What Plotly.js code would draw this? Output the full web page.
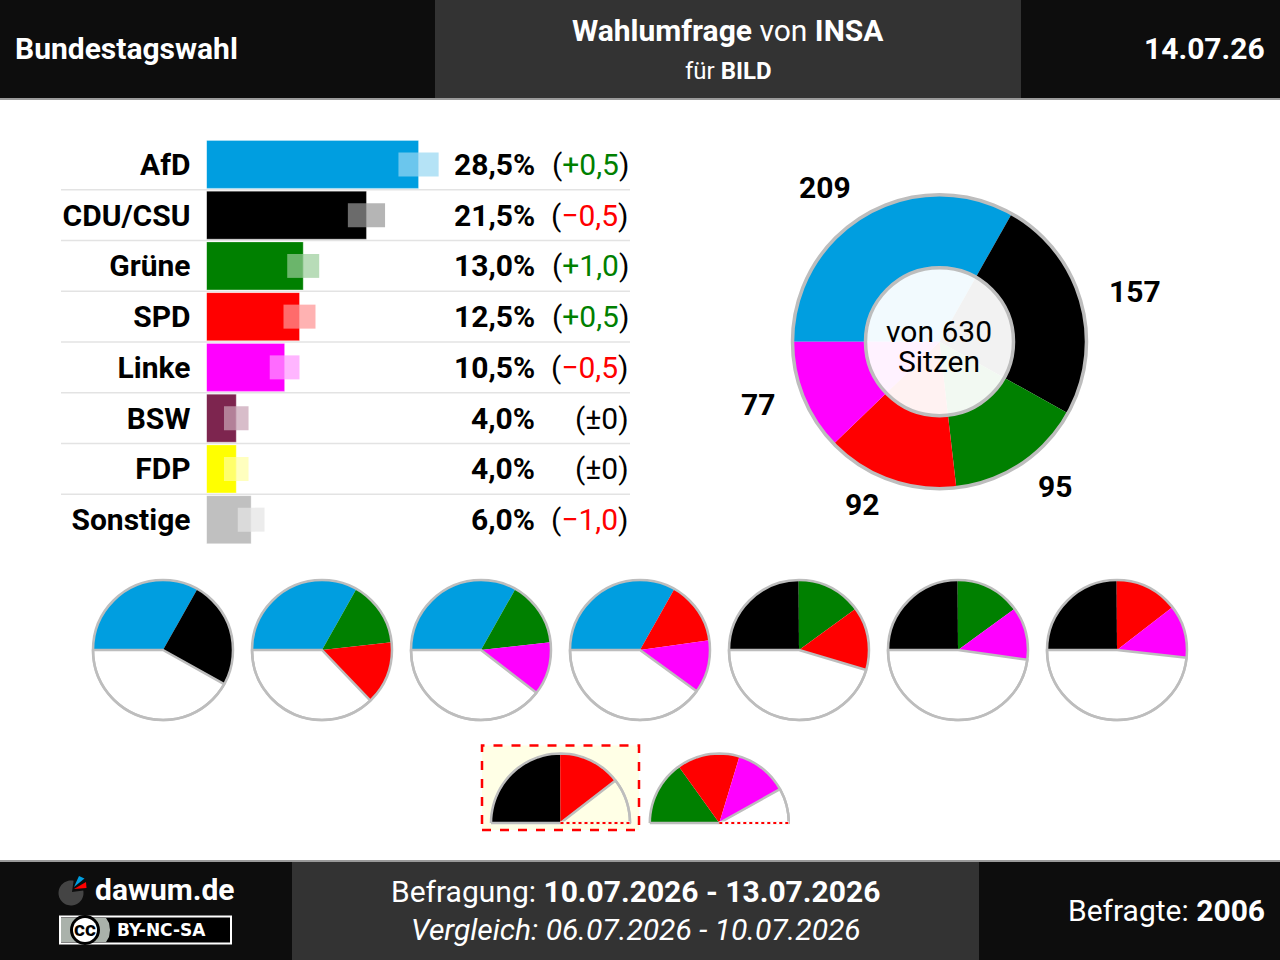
<!DOCTYPE html>
<html>
<head>
<meta charset="utf-8">
<script src="https://cdn.plot.ly/plotly-3.0.1.min.js"></script>
<style>
  html, body { margin: 0; padding: 0; background: #fff; }
  #chart { width: 1280px; height: 960px; }
</style>
</head>
<body>
<div id="chart"></div>
<script>
// poll values
var parties = ['AfD', 'CDU/CSU', 'Grüne', 'SPD', 'Linke', 'BSW', 'FDP', 'Sonstige'];
var percent = [28.5, 21.5, 13.0, 12.5, 10.5, 4.0, 4.0, 6.0];
var change = [0.5, -0.5, 1.0, 0.5, -0.5, 0, 0, -1.0];
var margin = [2.7, 2.5, 2.15, 2.15, 2.0, 1.65, 1.65, 1.8];
var partyColors = ['#009ee0', '#000000', '#008000', '#ff0000', '#ff00ff', '#7d254f', '#ffff00', '#c0c0c0'];
var tintColors = ['rgba(0,158,224,.29)', 'rgba(0,0,0,.29)', 'rgba(0,128,0,.28)', 'rgba(255,0,0,.3)', 'rgba(255,0,255,.29)', 'rgba(125,37,79,.3)', 'rgba(255,255,0,.25)', 'rgba(192,192,192,.3)'];

// seats
var seatParties = ['AfD', 'CDU/CSU', 'Grüne', 'SPD', 'Linke'];
var seats = [209, 157, 95, 92, 77];
var totalSeats = 630;
var majority = 315;
var coalitions = [
  ['AfD', 'CDU/CSU'], ['AfD', 'Grüne', 'SPD'], ['AfD', 'Grüne', 'Linke'], ['AfD', 'SPD', 'Linke'],
  ['CDU/CSU', 'Grüne', 'SPD'], ['CDU/CSU', 'Grüne', 'Linke'], ['CDU/CSU', 'SPD', 'Linke']
];
var minorities = [['CDU/CSU', 'SPD'], ['Grüne', 'SPD', 'Linke']];

var W = 1280, H = 960;
var RING = '#bdbdbd';
function px(x) { return x / W; }
function py(y) { return 1 - y / H; }
function seatsOf(name) { return seats[seatParties.indexOf(name)]; }
function colorOf(name) { return partyColors[parties.indexOf(name)]; }
function comma(v) { return v.toFixed(1).replace('.', ','); }

// angles clockwise from north, in degrees
function arc(cx, cy, r, a0, a1) {
  var s = '', n = 48;
  for (var i = 0; i <= n; i++) {
    var a = (a0 + (a1 - a0) * i / n) * Math.PI / 180;
    s += (i ? ' L' : 'M') + px(cx + r * Math.sin(a)) + ',' + py(cy - r * Math.cos(a));
  }
  return s;
}
function rect(x0, y0, x1, y1, fill, layer) {
  return {type: 'rect', xref: 'paper', yref: 'paper', x0: px(x0), x1: px(x1), y0: py(y0), y1: py(y1),
    fillcolor: fill, line: {width: 0}, layer: layer || 'below'};
}
function circle(cx, cy, r, fill, lineColor, lineWidth) {
  return {type: 'circle', xref: 'paper', yref: 'paper', x0: px(cx - r), x1: px(cx + r), y0: py(cy + r), y1: py(cy - r),
    fillcolor: fill, line: {color: lineColor, width: lineWidth}, layer: 'above'};
}
function seg(x0, y0, x1, y1, color, width, dash, layer) {
  return {type: 'line', xref: 'paper', yref: 'paper', x0: px(x0), x1: px(x1), y0: py(y0), y1: py(y1),
    line: {color: color, width: width, dash: dash || 'solid'}, layer: layer || 'above'};
}
function pathShape(d, fill, lineColor, lineWidth) {
  return {type: 'path', xref: 'paper', yref: 'paper', path: d, fillcolor: fill || 'rgba(0,0,0,0)',
    line: {color: lineColor || 'rgba(0,0,0,0)', width: lineWidth || 0}, layer: 'above'};
}
function poly(points) {
  return points.map(function (p, i) { return (i ? 'L' : 'M') + px(p[0]) + ',' + py(p[1]); }).join(' ') + ' Z';
}
function label(x, y, text, size, color, anchor, family) {
  return {xref: 'paper', yref: 'paper', x: px(x), y: py(y), text: text, showarrow: false,
    xanchor: anchor || 'center', yanchor: 'middle', borderpad: 0,
    font: {family: family || 'Roboto', size: size, color: color || '#000'}};
}

// bar panel
var PER_PCT = 7.44, BAR_L = 206.5, BAR_R = 630, BAR_T = 139, BAR_B = 545;
var data = [
  {type: 'bar', orientation: 'h', y: parties, x: percent, width: 48 / 50.75,
   marker: {color: partyColors, line: {color: 'rgba(255,255,255,.3)', width: 1}}, hoverinfo: 'skip'},
  {type: 'bar', orientation: 'h', y: parties, x: margin, width: 24 / 50.75,
   base: percent.map(function (v, i) { return v - margin[i]; }),
   marker: {color: 'rgba(255,255,255,.42)', line: {width: 0}}, hoverinfo: 'skip'},
  {type: 'bar', orientation: 'h', y: parties, x: margin, width: 24 / 50.75, base: percent,
   marker: {color: tintColors, line: {width: 0}}, hoverinfo: 'skip'}
];

function pieTrace(cx, cy, r, names, values, colors, lines) {
  return {type: 'pie', labels: names, values: values, sort: false, direction: 'clockwise', rotation: 270,
    textinfo: 'none', hoverinfo: 'skip', showlegend: false,
    domain: {x: [px(cx - r), px(cx + r)], y: [py(cy + r), py(cy - r)]},
    marker: {colors: colors, line: {color: RING, width: lines}}};
}

// seat pie
var DONUT = [939.5, 341.7, 147];
data.push(pieTrace(DONUT[0], DONUT[1], DONUT[2], seatParties, seats, seatParties.map(colorOf), [0, 0, 0, 0, 0]));

var shapes = [
  // header and footer
  rect(0, 0, W, 98, '#0d0d0d'), rect(435, 0, 1021, 98, '#333333'), rect(0, 98, W, 100, '#9a9a9a'),
  rect(0, 862, W, H, '#0d0d0d'), rect(292, 862, 979, H, '#333333'), rect(0, 860, W, 862, '#9a9a9a'),
  // highlighted minority box
  {type: 'rect', xref: 'paper', yref: 'paper', x0: px(482), x1: px(639), y0: py(830), y1: py(745.5),
   fillcolor: '#ffffe6', line: {color: '#ff0000', width: 2.5, dash: 'dash'}, layer: 'below'},
  // donut ring and centre
  circle(DONUT[0], DONUT[1], DONUT[2], 'rgba(0,0,0,0)', RING, 3.5),
  circle(DONUT[0], DONUT[1], 74, 'rgba(255,255,255,.95)', RING, 3.5)
];
for (var k = 0; k < parties.length - 1; k++) {
  shapes.push({type: 'line', xref: 'paper', yref: 'y', x0: px(61), x1: px(630), y0: k + 0.5, y1: k + 0.5,
    line: {color: '#e3e3e3', width: 1.5}, layer: 'below'});
}

// coalition pies
var PIE_XS = [163, 322, 481, 640, 799, 958, 1117], PIE_Y = 650, PIE_R = 70;
coalitions.forEach(function (c, i) {
  var vals = c.map(seatsOf);
  var rest = totalSeats - vals.reduce(function (a, b) { return a + b; }, 0);
  data.push(pieTrace(PIE_XS[i], PIE_Y, PIE_R, c.concat(['Rest']), vals.concat([rest]),
    c.map(colorOf).concat(['#ffffff']), c.map(function () { return 0; }).concat([2.5])));
  shapes.push(circle(PIE_XS[i], PIE_Y, PIE_R, 'rgba(0,0,0,0)', RING, 2.5));
});

// half pies, bottom half is an invisible slice
var HALF_XS = [560.5, 719.3], HALF_Y = 823, HALF_R = 69.5, HALF_BG = ['#ffffe6', '#ffffff'];
minorities.forEach(function (c, i) {
  var vals = c.map(seatsOf);
  var rest = majority - vals.reduce(function (a, b) { return a + b; }, 0);
  data.push(pieTrace(HALF_XS[i], HALF_Y, HALF_R, c.concat(['Rest', 'Leer']), vals.concat([rest, majority]),
    c.map(colorOf).concat(['rgba(0,0,0,0)', 'rgba(0,0,0,0)']), c.map(function () { return 0; }).concat([2.5, 0])));
  shapes.push(pathShape(arc(HALF_XS[i], HALF_Y, HALF_R, -90, 90), null, RING, 2.5));
  shapes.push(seg(HALF_XS[i] - HALF_R, HALF_Y, HALF_XS[i], HALF_Y, RING, 2.5));
  shapes.push(seg(HALF_XS[i], HALF_Y, HALF_XS[i] + HALF_R, HALF_Y, HALF_BG[i], 3));
  shapes.push(seg(HALF_XS[i], HALF_Y, HALF_XS[i] + HALF_R, HALF_Y, '#ff0000', 2, 'dot'));
});

// logo
shapes.push(pathShape(arc(71, 893, 12.5, 78, 372) + ' L' + px(72) + ',' + py(892) + ' Z', '#444444'));
shapes.push(pathShape(poly([[74, 887], [79, 876], [84.5, 878.5]]), '#009ee0'));
shapes.push(pathShape(poly([[74, 889], [86, 882], [86.5, 888]]), '#ff0000'));

// licence badge
shapes.push(rect(60, 916.5, 231, 943.5, '#000000', 'above'));
shapes[shapes.length - 1].line = {color: '#ffffff', width: 2};
shapes.push(pathShape(poly([[61, 918], [106, 918], [109, 923], [110, 930], [109, 937], [106, 942], [61, 942]]), '#aab2ab'));
shapes.push(circle(85, 930, 13.5, '#000000', '#000000', 3));
shapes.push(circle(85, 930, 12, '#ffffff', '#ffffff', 0));

var annotations = [
  label(14, 49, '<b>Bundestagswahl</b>', 30, '#fff', 'left'),
  label(728, 30, '<b>Wahlumfrage</b> von <b>INSA</b>', 30, '#fff'),
  label(728, 71, 'für <b>BILD</b>', 24, '#fff'),
  label(1266, 49, '<b>14.07.26</b>', 30, '#fff', 'right'),
  label(165, 889, '<b>dawum.de</b>', 30, '#fff'),
  label(85, 929, '<b>cc</b>', 21, '#000'),
  label(161.5, 930, '<b>BY-NC-SA</b>', 17, '#fff', 'center', 'DejaVu Sans'),
  label(635.5, 891, 'Befragung: <b>10.07.2026 - 13.07.2026</b>', 30, '#fff'),
  label(635.5, 929, '<i>Vergleich: 06.07.2026 - 10.07.2026</i>', 30, '#fff'),
  label(1266, 910, 'Befragte: <b>2006</b>', 30, '#fff', 'right')
];
var vonLine = label(939, 331, 'von 630', 30, '#000');
vonLine.height = 28;
var sitzenLine = label(939, 361, 'Sitzen', 30, '#000');
sitzenLine.height = 28;
annotations.push(vonLine, sitzenLine);
parties.forEach(function (p, i) {
  annotations.push({xref: 'paper', yref: 'y', x: px(536), y: p, xanchor: 'right', yanchor: 'middle', showarrow: false, borderpad: 0,
    text: '<b>' + comma(percent[i]) + '%</b>', font: {family: 'Roboto', size: 30, color: '#000'}});
  var d = change[i];
  var txt = d === 0 ? '(±0)' : '(<span style="color:' + (d > 0 ? '#008000' : '#ff0000') + '">' +
    (d > 0 ? '+' : '−') + comma(Math.abs(d)) + '</span>)';
  annotations.push({xref: 'paper', yref: 'y', x: px(629.5), y: p, xanchor: 'right', yanchor: 'middle', showarrow: false, borderpad: 0,
    text: txt, font: {family: 'Roboto', size: 30, color: '#000'}});
});
var SEAT_LABEL_POS = [[824.5, 187.5], [1135, 291], [1054.5, 486], [862, 505], [758, 404.5]];
seats.forEach(function (s, i) {
  annotations.push(label(SEAT_LABEL_POS[i][0], SEAT_LABEL_POS[i][1], '<b>' + s + '</b>', 30, '#000'));
});

var layout = {
  width: W, height: H,
  margin: {l: 0, r: 0, t: 0, b: 0, pad: 0},
  paper_bgcolor: '#ffffff', plot_bgcolor: 'rgba(0,0,0,0)',
  showlegend: false,
  barmode: 'overlay',
  font: {family: 'Roboto'},
  xaxis: {domain: [px(BAR_L), px(BAR_R)], range: [0, (BAR_R - BAR_L) / PER_PCT], visible: false, fixedrange: true},
  yaxis: {domain: [py(BAR_B), py(BAR_T)], type: 'category', categoryorder: 'array', categoryarray: parties,
    range: [7.5, -0.5], showgrid: false, zeroline: false, showline: false, fixedrange: true,
    ticks: 'outside', ticklen: 9, tickcolor: 'rgba(0,0,0,0)',
    tickfont: {family: 'Roboto', size: 30, color: '#000', weight: 700}},
  shapes: shapes,
  annotations: annotations
};

Plotly.newPlot('chart', data, layout, {displayModeBar: false, staticPlot: true});
</script>
</body>
</html>
